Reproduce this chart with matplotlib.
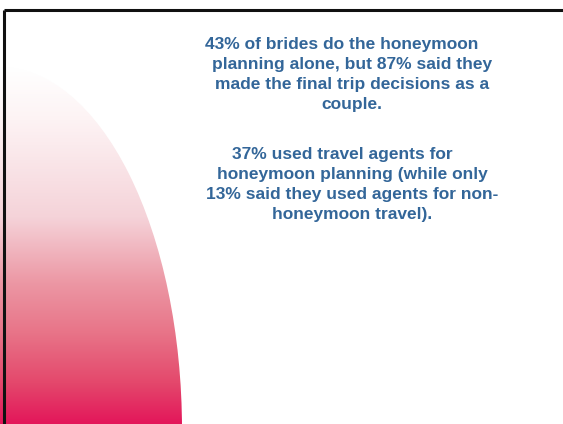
import numpy as np
import matplotlib
matplotlib.use("Agg")
import matplotlib.pyplot as plt
from matplotlib.patches import Ellipse


W, H = 563, 424

# text of the slide, one entry per wrapped line
para1_lines = [
    "43% of brides do the honeymoon",
    "planning alone, but 87% said they",
    "made the final trip decisions as a",
    "couple.",
]
para2_lines = [
    "37% used travel agents for",
    "honeymoon planning (while only",
    "13% said they used agents for non-",
    "honeymoon travel).",
]

# vertical colour stops of the pink shape (y in pixels, colour)
grad_y      = [67, 120, 217, 283, 333, 383, 424]
grad_colors = ["#FFFFFF", "#FDF3F4", "#F5D3D9", "#EC97A4", "#E87488", "#E4486C", "#E3165A"]

TEXT_COLOR = "#336699"
TEXT_X     = 352
LINE_STEP  = 20
PARA1_Y    = 45
PARA2_Y    = 155
# first line of each paragraph was wrapped with trailing blanks, so it sits left
FIRST_SHIFT = -10


def hex_rgb(h):
    h = h.lstrip("#")
    return [int(h[i:i+2], 16) / 255 for i in (0, 2, 4)]


fig = plt.figure(figsize=(W / 100, H / 100), dpi=100)
ax = fig.add_axes([0, 0, 1, 1])
ax.set_xlim(0, W)
ax.set_ylim(H, 0)
ax.axis("off")

# gradient filled quarter ellipse on the left
rows = np.arange(grad_y[0], H + 1)
rgb = np.array([hex_rgb(c) for c in grad_colors])
img = np.stack([np.interp(rows, grad_y, rgb[:, k]) for k in range(3)], axis=-1)
img = img[:, None, :]

shape = Ellipse((0, 430), 2 * 182, 2 * 363, facecolor="none", edgecolor="none")
ax.add_patch(shape)
im = ax.imshow(img, extent=[0, 200, H, grad_y[0]], origin="upper",
               aspect="auto", interpolation="bilinear", zorder=1)
im.set_clip_path(shape)

# frame: top and left edge only
ax.plot([4, W], [10, 10], color="#111111", lw=2.2, solid_capstyle="butt", zorder=3)
ax.plot([4, 4], [10, H], color="#111111", lw=2.2, solid_capstyle="butt", zorder=3)

for y0, lines in [(PARA1_Y, para1_lines), (PARA2_Y, para2_lines)]:
    for i, line in enumerate(lines):
        x = TEXT_X + (FIRST_SHIFT if i == 0 else 0)
        ax.text(x, y0 + i * LINE_STEP, line, ha="center", va="center",
                fontsize=12.5, fontweight="bold", family="Liberation Sans",
                color=TEXT_COLOR)

fig.savefig("out.png", dpi=100)
